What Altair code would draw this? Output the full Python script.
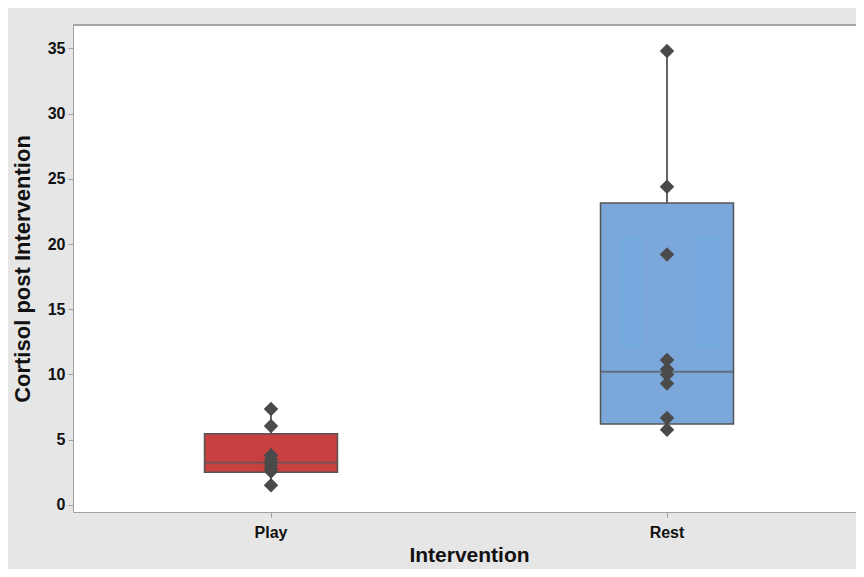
import altair as alt
import pandas as pd

# ---- data ----
groups = ["Play", "Rest"]
q1 = [2.5, 6.2]
median = [3.25, 10.2]
q3 = [5.45, 23.15]
whisker_lo = [1.5, 5.75]
whisker_hi = [7.35, 34.8]

play_points = [7.35, 6.05, 3.8, 3.5, 3.25, 3.0, 2.75, 2.55, 1.5]
rest_points = [34.8, 24.4, 19.2, 11.1, 10.4, 10.0, 9.3, 6.65, 5.75]

# faint lighter bands seen inside the Rest box
inner_lo = [12.0]
inner_hi = [20.7]

box_colors = ["#c84141", "#7ba7da"]

stats = pd.DataFrame({
    "Intervention": groups, "q1": q1, "median": median, "q3": q3,
    "lo": whisker_lo, "hi": whisker_hi,
})
points = pd.DataFrame({
    "Intervention": ["Play"] * len(play_points) + ["Rest"] * len(rest_points),
    "Cortisol": play_points + rest_points,
})
inner = pd.DataFrame({"Intervention": ["Rest"], "lo": inner_lo, "hi": inner_hi})

FONT = "Liberation Sans"

x_enc = alt.X(
    "Intervention:N", sort=groups, title="Intervention",
    scale=alt.Scale(paddingInner=0, paddingOuter=0, range=[0, 792]),
    axis=alt.Axis(labelAngle=0, tickSize=5, labelPadding=7, titlePadding=4,
                  domainColor="#a0a0a0", tickColor="#a0a0a0",
                  labelFont=FONT, labelFontSize=16, labelFontWeight="bold",
                  labelColor="#111", titleFont=FONT, titleFontSize=21,
                  titleFontWeight="bold", titleColor="#111"),
)
y_scale = alt.Scale(domain=[-0.55, 36.8], nice=False, zero=False)
y_axis = alt.Axis(values=[0, 5, 10, 15, 20, 25, 30, 35], grid=False, tickSize=5,
                  labelPadding=3, titlePadding=13,
                  domainColor="#a0a0a0", tickColor="#a0a0a0",
                  labelFont=FONT, labelFontSize=16, labelFontWeight="bold",
                  labelColor="#111", titleFont=FONT, titleFontSize=22,
                  titleFontWeight="bold", titleColor="#111")

base = alt.Chart(stats)

whisker = base.mark_rule(color="#666666", strokeWidth=2).encode(
    x=x_enc,
    y=alt.Y("lo:Q", scale=y_scale, axis=y_axis, title="Cortisol post Intervention"),
    y2="hi:Q",
)

box = base.mark_bar(size=133, stroke="#555555", strokeWidth=1.5).encode(
    x=x_enc,
    y=alt.Y("q1:Q", scale=y_scale),
    y2="q3:Q",
    color=alt.Color("Intervention:N", scale=alt.Scale(domain=groups, range=box_colors), legend=None),
)

inner_l = alt.Chart(inner).mark_bar(size=23, xOffset=-36.5, color="#76aade").encode(
    x=x_enc, y=alt.Y("lo:Q", scale=y_scale), y2="hi:Q")
inner_r = alt.Chart(inner).mark_bar(size=25, xOffset=41.5, color="#76aade").encode(
    x=x_enc, y=alt.Y("lo:Q", scale=y_scale), y2="hi:Q")

med = base.mark_tick(size=133, thickness=2, color="#555555").encode(
    x=x_enc, y=alt.Y("median:Q", scale=y_scale))

pts = alt.Chart(points).mark_point(shape="diamond", filled=True, size=210,
                                   color="#4a4a4a", opacity=1).encode(
    x=x_enc, y=alt.Y("Cortisol:Q", scale=y_scale))

top_line = alt.Chart(stats).mark_rule(color="#a0a0a0", strokeWidth=1.5).encode(
    x=alt.value(0), x2=alt.value(792), y=alt.value(0))

chart = alt.layer(whisker, box, inner_l, inner_r, med, pts, top_line).properties(
    width=783, height=487,
    autosize=alt.AutoSizeParams(type="none"),
    padding={"left": 65, "top": 17, "right": 0, "bottom": 57},
    background="#e6e6e6",
).configure_view(fill="white", stroke=None)

chart.save("out.html", embed_options={"renderer": "svg", "actions": False})
